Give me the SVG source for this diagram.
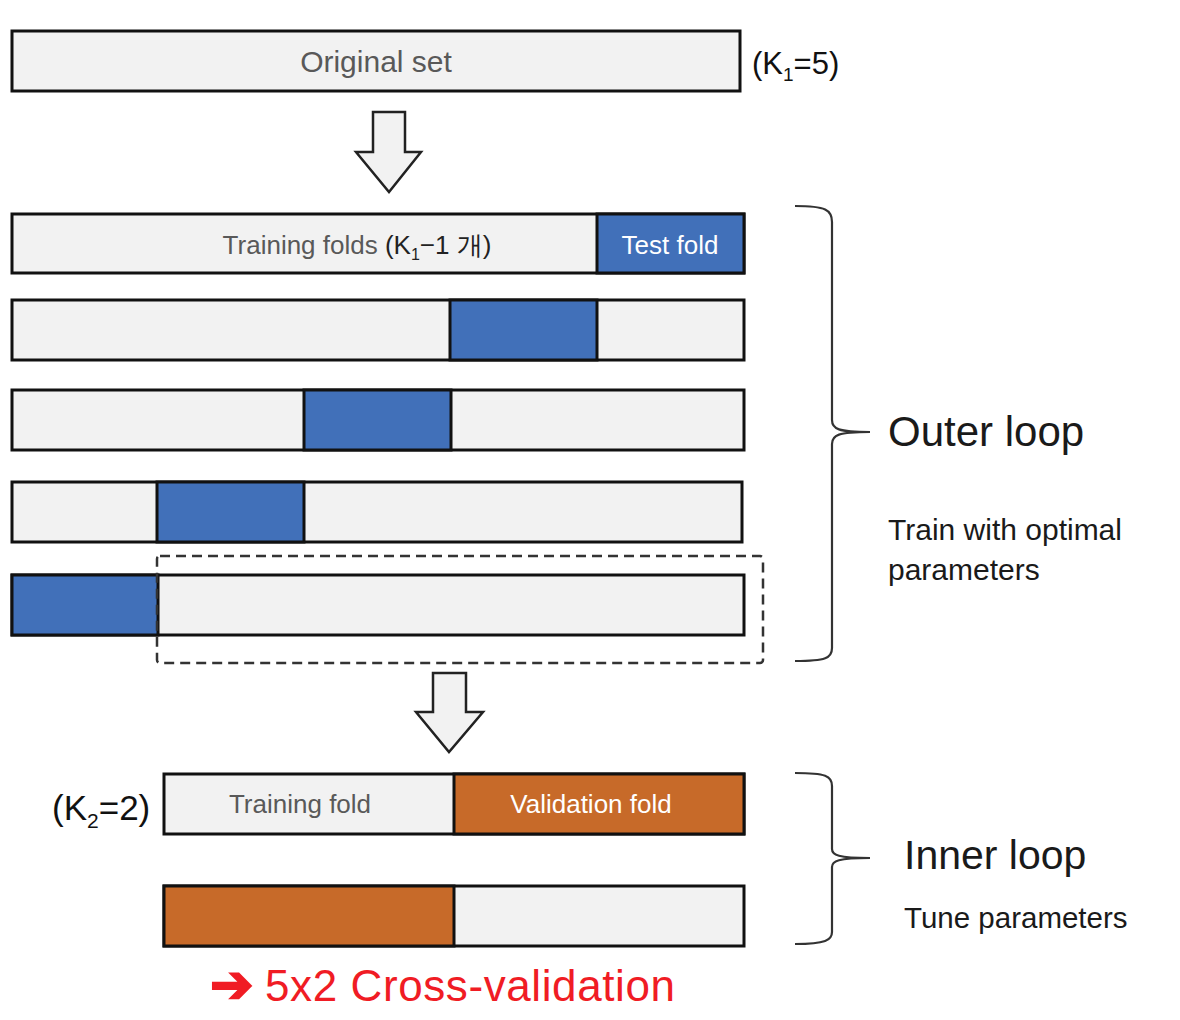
<svg xmlns="http://www.w3.org/2000/svg" width="1180" height="1020" viewBox="0 0 1180 1020">
<style>
.bar{fill:#f2f2f2;stroke:#111;stroke-width:3}
.blue{fill:#4170b9;stroke:#111;stroke-width:3}
.org{fill:#c76a29;stroke:#111;stroke-width:3}
.lbl{font-family:"Liberation Sans",Arial,sans-serif;font-size:26px;fill:#595959;text-anchor:middle}
.wlbl{font-family:"Liberation Sans",Arial,sans-serif;font-size:26px;fill:#ffffff;text-anchor:middle}
.k{font-family:"Liberation Sans","Noto Sans CJK KR",sans-serif;font-size:31px;fill:#111}
.big{font-family:"Liberation Sans",Arial,sans-serif;font-size:42px;fill:#1a1a1a}
.mid{font-family:"Liberation Sans",Arial,sans-serif;font-size:30px;fill:#1a1a1a}
.brace{fill:none;stroke:#333;stroke-width:2.2}
.arrow{fill:#f2f2f2;stroke:#222;stroke-width:2.5;stroke-linejoin:miter}
</style>
<g id="original">
<rect class="bar" x="12" y="31" width="728" height="60"/>
<text class="lbl" x="376" y="72" style="font-size:30px">Original set</text>
</g>
<text id="k1" class="k" x="752" y="74">(K<tspan font-size="19" dy="7">1</tspan><tspan dy="-7">=5)</tspan></text>
<g id="connectors">
<path class="arrow" d="M373,112 L405,112 L405,152 L421,152 L389,192 L356,152 L373,152 Z"/>
<path class="arrow" d="M433,673 L466,673 L466,712 L483,712 L449,752 L416,712 L433,712 Z"/>
<path id="outer-brace" class="brace" d="M795,206 C826,206 832,210 832,222 L832,420 C832,429 838,432 870,432 C838,432 832,435 832,444 L832,648 C832,658 826,661 795,661"/>
<path id="inner-brace" class="brace" d="M795,773 C826,773 832,776 832,786 L832,849 C832,855 838,858 870,858 C838,858 832,861 832,867 L832,932 C832,940 826,944 795,944"/>
</g>
<g id="outer-row1">
<rect class="bar" x="12" y="214" width="732" height="59"/>
<rect class="blue" x="597" y="214" width="147" height="59"/>
<text class="lbl" x="357" y="254">Training folds <tspan fill="#222">(K<tspan font-size="16" dy="6">1</tspan><tspan dy="-6">−1 개)</tspan></tspan></text>
<text class="wlbl" x="670" y="254">Test fold</text>
</g>
<g id="outer-row2">
<rect class="bar" x="12" y="300" width="732" height="60"/>
<rect class="blue" x="450" y="300" width="147" height="60"/>
</g>
<g id="outer-row3">
<rect class="bar" x="12" y="390" width="732" height="60"/>
<rect class="blue" x="304" y="390" width="147" height="60"/>
</g>
<g id="outer-row4">
<rect class="bar" x="12" y="482" width="730" height="60"/>
<rect class="blue" x="157" y="482" width="147" height="60"/>
</g>
<g id="outer-row5">
<rect class="bar" x="12" y="575" width="732" height="60"/>
<rect class="blue" x="12" y="575" width="146" height="60"/>
</g>
<rect id="selection" x="157" y="556" width="606" height="107" rx="3" fill="none" stroke="#333" stroke-width="2.5" stroke-dasharray="10 6"/>
<g id="outer-label">
<text class="big" x="888" y="446">Outer loop</text>
<text class="mid" x="888" y="540">Train with optimal</text>
<text class="mid" x="888" y="580">parameters</text>
</g>
<g id="inner-row1">
<rect class="bar" x="164" y="774" width="580" height="60"/>
<rect class="org" x="454" y="774" width="290" height="60"/>
<text class="lbl" x="300" y="813">Training fold</text>
<text class="wlbl" x="591" y="813">Validation fold</text>
</g>
<g id="inner-row2">
<rect class="bar" x="164" y="886" width="580" height="60"/>
<rect class="org" x="164" y="886" width="290" height="60"/>
</g>
<text id="k2" class="k" x="52" y="820" style="font-size:35px">(K<tspan font-size="21" dy="8">2</tspan><tspan dy="-8">=2)</tspan></text>
<g id="inner-label">
<text class="big" x="904" y="869" style="font-size:41px">Inner loop</text>
<text class="mid" x="904" y="928" style="font-size:29.5px">Tune parameters</text>
</g>
<g id="result">
<text x="210" y="1002" font-family="DejaVu Sans,sans-serif" font-size="52" font-weight="bold" fill="#f01c24" stroke="#f01c24" stroke-width="2">➔</text>
<text x="265" y="1001" font-family="Liberation Sans,Arial,sans-serif" font-size="44" fill="#f01c24" textLength="410">5x2 Cross-validation</text>
</g>
</svg>
